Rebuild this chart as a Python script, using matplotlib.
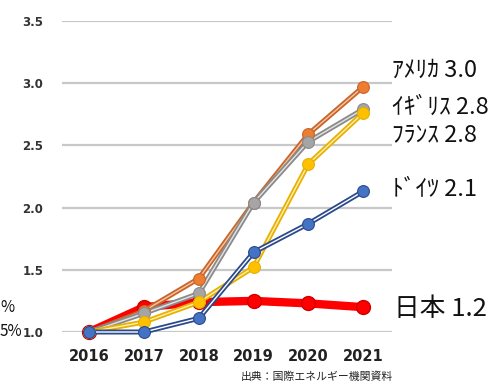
import matplotlib.pyplot as plt
import matplotlib.patheffects as pe

plt.rcParams['font.family'] = ['Noto Sans CJK JP', 'DejaVu Sans']

years = [2016, 2017, 2018, 2019, 2020, 2021]
usa = [1.00, 1.17, 1.43, 2.04, 2.59, 2.97]
uk = [1.00, 1.15, 1.31, 2.04, 2.53, 2.79]
france = [1.00, 1.08, 1.24, 1.52, 2.35, 2.76]
germany = [1.00, 1.00, 1.11, 1.64, 1.87, 2.13]
japan = [1.00, 1.20, 1.24, 1.25, 1.23, 1.20]

labels = ["ｱﾒﾘｶ 3.0", "ｲｷﾞﾘｽ 2.8", "ﾌﾗﾝｽ 2.8", "ﾄﾞｲﾂ 2.1", "日本 1.2"]
yticks = [1.0, 1.5, 2.0, 2.5, 3.0, 3.5]

fig = plt.figure(figsize=(5.02, 3.84), dpi=100)
fig.patch.set_facecolor("white")
ax = fig.add_axes([62/502, 1 - 332/384, 330/502, 311/384])
ax.set_facecolor("white")
ax.set_xlim(2015.5, 2021.53)
ax.set_ylim(1.0, 3.5)

# 二重線っぽいスタイル (外側の色 + 内側の明るい線)
series = [
    (japan, "#ff0000", "#e00000", None),
    (usa, "#ed7d31", "#c8652a", "#f7c6a3"),
    (uk, "#a5a5a5", "#8a8a8a", "#e4e4e4"),
    (france, "#ffc000", "#e8b000", "#fff0b0"),
    (germany, "#4472c4", "#2b4a8c", "#ffffff"),
]

for vals, mcol, outer, inner in series:
    if inner is None:
        ax.plot(years, vals, color=mcol, lw=6, solid_capstyle="round",
                marker="o", ms=10, mfc=mcol, mec="#d00000", mew=1,
                clip_on=False, zorder=2)
    else:
        ax.plot(years, vals, color=inner, lw=1.0, clip_on=False, zorder=3,
                path_effects=[pe.Stroke(linewidth=3.6, foreground=outer), pe.Normal()])
        ax.plot(years, vals, ls="none", marker="o", ms=8.5, mfc=mcol,
                mec=outer, mew=0.8, clip_on=False, zorder=4)

ax.set_yticks(yticks)
ax.set_yticklabels([f"{v:.1f}" for v in yticks], fontsize=8.5,
                   fontweight="bold", color="#333333", family="DejaVu Sans")
ax.set_xticks(years)
ax.set_xticklabels([str(y) for y in years], fontsize=10.5, fontweight="bold",
                   color="#222222", family="DejaVu Sans")
ax.tick_params(axis="y", length=0, pad=13.5)
ax.tick_params(axis="x", length=0, pad=12)
ax.grid(axis="y", color="#c8c8c8", lw=1.6)
ax.set_axisbelow(True)
for s in ax.spines.values():
    s.set_visible(False)

# 右側のラベル
label_pos = [(392, 70, 17), (392, 107, 17), (392, 136, 17),
             (392, 189, 17), (394, 309, 18.5)]
for txt, (px, py, fs) in zip(labels, label_pos):
    fig.text(px/502, 1 - py/384, txt, fontsize=fs, color="#111111",
             ha="left", va="center")

# 左端の文字の断片
fig.text(0, 1 - 308/384, "%", fontsize=11, ha="left", va="center", color="#111111")
fig.text(0, 1 - 332/384, "5%", fontsize=11, ha="left", va="center", color="#111111")

fig.text(393/502, 1 - 377/384, "出典：国際エネルギー機関資料", fontsize=7.8,
         ha="right", va="center", color="#222222")

plt.savefig("out.png", dpi=100, facecolor="white")
